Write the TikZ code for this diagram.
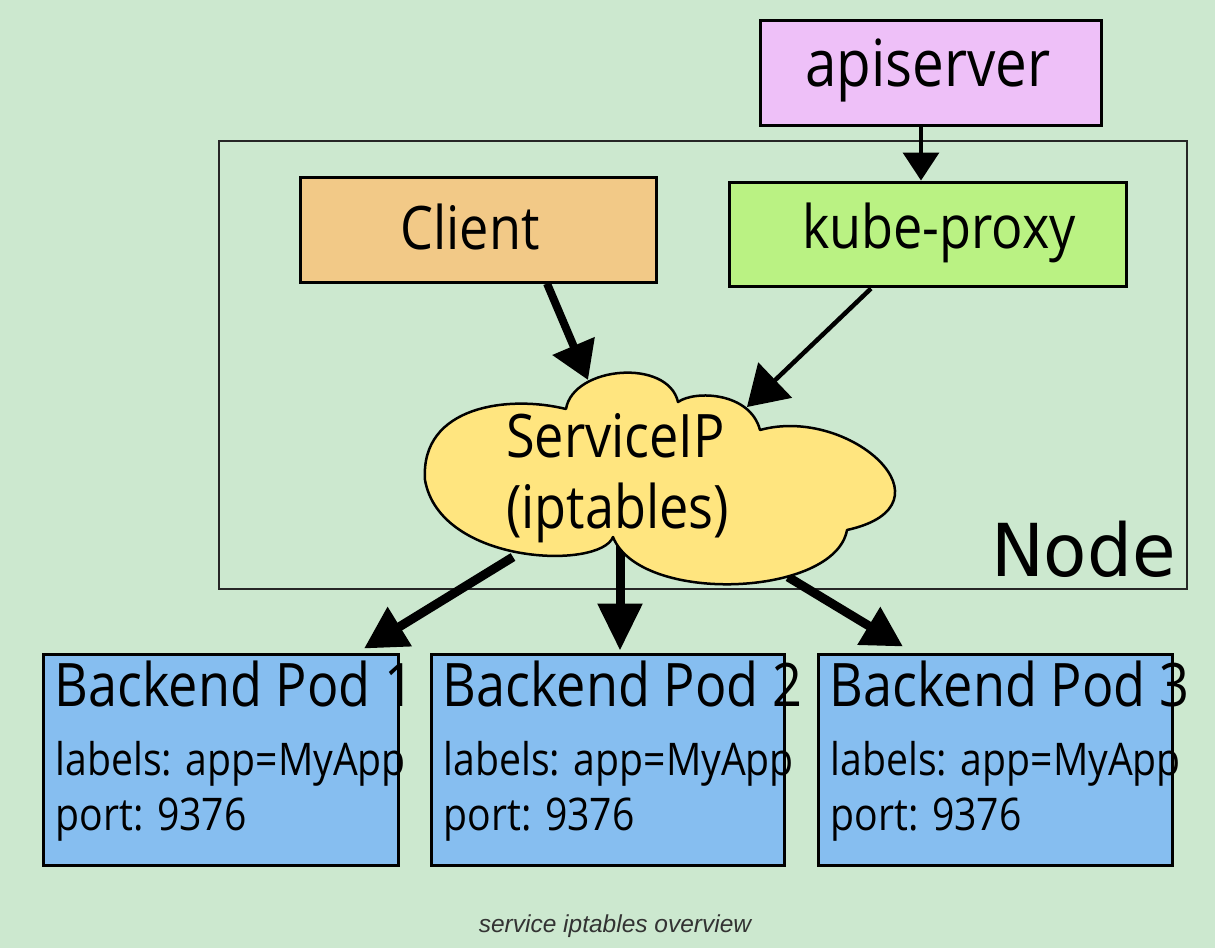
\documentclass[tikz,border=0pt]{standalone}
\usepackage{fontspec}
\usetikzlibrary{arrows.meta,calc}
\newfontfamily\osans[FakeStretch=0.87]{Open Sans}
\newfontfamily\dsans[FakeStretch=0.97]{DejaVu Sans}
\newfontfamily\capsans{Liberation Sans}
\definecolor{bgc}{HTML}{CCE8CF}
\definecolor{apic}{HTML}{EEC0F8}
\definecolor{clientc}{HTML}{F2C987}
\definecolor{kubec}{HTML}{BAF283}
\definecolor{cloudc}{HTML}{FFE57F}
\definecolor{podc}{HTML}{86BEF0}
\definecolor{capc}{HTML}{333333}
\begin{document}
\begin{tikzpicture}[x=1pt,y=-1pt,
  box/.style={draw=black, line width=3pt, inner sep=0pt},
  bigtxt/.style={inner sep=0pt, anchor=base, font=\osans\fontsize{60}{72}\selectfont},
  podtitle/.style={inner sep=0pt, anchor=base west, font=\osans\fontsize{60}{72}\selectfont},
  podtxt/.style={inner sep=0pt, anchor=base west, font=\osans\fontsize{45}{52}\selectfont},
  conn/.style={draw=black}
]
\fill[bgc] (0,0) rectangle (1215,948);
\useasboundingbox (0,0) rectangle (1215,948);

% Node frame
\node[draw=black!85, line width=1.2pt, minimum width=968pt, minimum height=448pt, inner sep=0pt] (frame) at (703,365) {};
\node[inner sep=0pt, anchor=base east, font=\dsans\fontsize{73}{80}\selectfont] (nodelbl) at (1176,576) {Node};

% boxes
\node[box, fill=apic, minimum width=341pt, minimum height=105pt] (api) at (930.5,72.5) {};
\node[bigtxt, font=\osans\fontsize{65}{72}\selectfont] (apit) at (928,86) {apiserver};
\node[box, fill=clientc, minimum width=356pt, minimum height=105pt] (client) at (478,229.5) {};
\node[bigtxt] (clientt) at (470,249) {Client};
\node[box, fill=kubec, minimum width=397pt, minimum height=104pt] (kube) at (927.5,234) {};
\node[bigtxt] (kubet) at (939,248) {kube-proxy};

% pods
\node[box, fill=podc, minimum width=355pt, minimum height=211pt] (pod1) at (220.5,759.5) {};
\node[box, fill=podc, minimum width=353pt, minimum height=211pt] (pod2) at (607.5,759.5) {};
\node[box, fill=podc, minimum width=354pt, minimum height=211pt] (pod3) at (995,759.5) {};
\foreach \p/\n in {pod1/1,pod2/2,pod3/3}{
  \node[podtitle] (\p t) at ($(\p.north west)+(13,54)$) {Backend Pod \n};
  \node[podtxt] (\p l) at ($(\p.north west)+(14,123)$) {labels: app=MyApp};
  \node[podtxt] (\p p) at ($(\p.north west)+(14,178)$) {port: 9376};
}

% cloud anchor coordinates
\coordinate (cloudA) at (513,557);
\coordinate (cloudB) at (620,540);
\coordinate (cloudC) at (788,577);
\coordinate (cloudTopL) at (588,380);
\coordinate (cloudTopR) at (747,407);

% arrows to pods (under the cloud)
\draw[conn, line width=9pt, -{Triangle[length=42pt,width=44pt]}] (cloudA) -- ($(pod1.north)+(143.5,-4)$);
\draw[conn, line width=9pt, -{Triangle[length=47pt,width=43pt]}] (cloudB) -- ($(pod2.north)+(12.5,-2)$);
\draw[conn, line width=9pt, -{Triangle[length=40pt,width=42pt]}] (cloudC) -- ($(pod3.north)+(-92,-6)$);

% cloud
\draw[fill=cloudc, line width=2.5pt, line join=round]
  (566,409) .. controls (573,366) and (668,358) .. (678,402)
  .. controls (695,390) and (750,392) .. (760,430)
  .. controls (850,405) and (960,505) .. (847,530)
  .. controls (835,597) and (640,605) .. (613,537)
  .. controls (600,570) and (440,565) .. (425,480)
  .. controls (420,405) and (510,395) .. (566,409) -- cycle;
\node[inner sep=0pt, anchor=base west, font=\osans\fontsize{60}{72}\selectfont] (svc1) at (506,457) {ServiceIP};
\node[inner sep=0pt, anchor=base west, font=\osans\fontsize{60}{72}\selectfont] (svc2) at (506,528) {(iptables)};

% upper arrows
\draw[conn, line width=3.5pt, -{Triangle[length=28pt,width=36pt]}] ($(api.south)+(-9.5,0)$) -- ($(kube.north)+(-6.5,0)$);
\draw[conn, line width=8pt, -{Triangle[length=37pt,width=44pt]}] ($(client.south)+(69,0)$) -- (cloudTopL);
\draw[conn, line width=4.5pt, -{Triangle[length=39pt,width=48pt]}] ($(kube.south)+(-56.5,1)$) -- (cloudTopR);

% caption
\node[inner sep=0pt, anchor=base, text=capc, font=\capsans\itshape\fontsize{24.5}{28}\selectfont] (caption) at (615,932) {service iptables overview};
\end{tikzpicture}
\end{document}
